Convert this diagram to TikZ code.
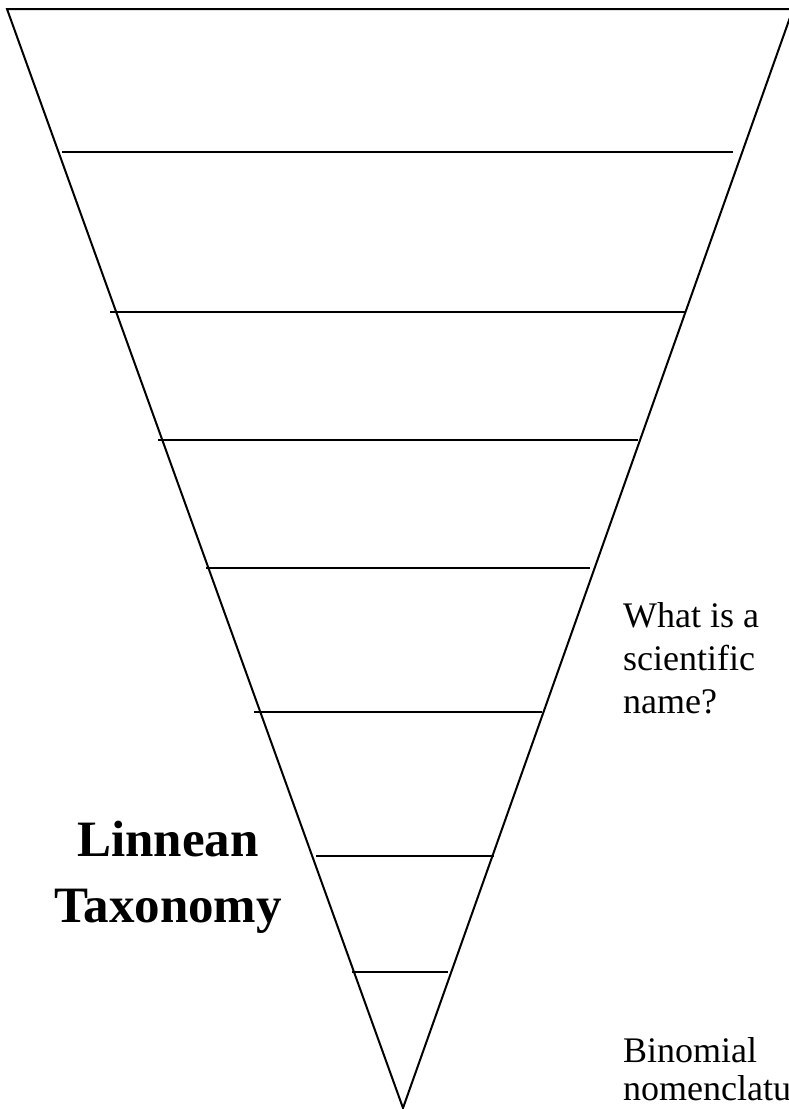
\documentclass[tikz,border=0pt]{standalone}
\usepackage{fontspec}
\setmainfont{Liberation Serif}
\usetikzlibrary{calc}

\begin{document}
\begin{tikzpicture}[
    x=1pt, y=-1pt,
    edge/.style={line width=2pt, black, line join=miter},
    rank/.style={line width=2pt, black},
    note/.style={inner sep=0pt, align=left, anchor=base west,
      font=\fontsize{36}{43}\selectfont},
    title/.style={inner sep=0pt, align=center, anchor=base,
      font=\fontsize{51}{66}\selectfont\bfseries}
  ]
    \useasboundingbox (0,0) rectangle (789,1109);

    % the funnel
    \coordinate (tl) at (7,9);
    \coordinate (tr) at (793,9);
    \coordinate (apex) at (403,1108);
    \draw[edge] (tl) -- (tr) -- (apex) -- cycle;

    % rank lines
    \foreach \y/\xl/\xr in {152/62/733, 312/110/685, 440/158/638,
        568/206/590, 712/254/542, 856/316/494, 972/352/448}
      \draw[rank] (\xl,\y) -- (\xr,\y);

    % base anchor sits on the last line
    \node[note] (question) at (623,713) {What is a\\scientific\\name?};
    \node[note, font=\fontsize{36}{38}\selectfont] (binomial) at (623,1100)
      {Binomial\\nomenclature};
    \node[title] (linnean) at (168,922) {Linnean\\Taxonomy};
\end{tikzpicture}
\end{document}
